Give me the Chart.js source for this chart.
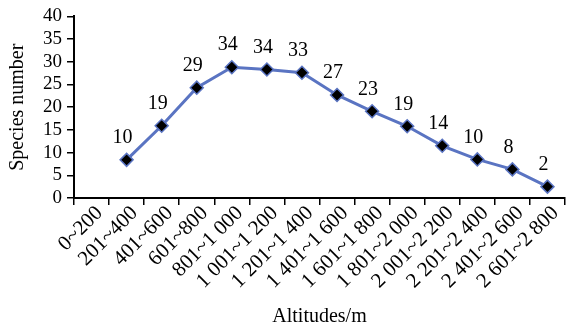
<!DOCTYPE html>
<html>
<head>
<meta charset="utf-8">
<script src="https://cdn.jsdelivr.net/npm/chart.js@4/dist/chart.umd.min.js"></script>
<style>
html, body { margin: 0; padding: 0; background: #fff; }
</style>
</head>
<body>
<canvas id="altChart" width="567" height="331"></canvas>
<script>
// altitude bands (x categories)
const altitudes = ['0~200', '201~400', '401~600', '601~800', '801~1 000', '1 001~1 200',
    '1 201~1 400', '1 401~1 600', '1 601~1 800', '1 801~2 000', '2 001~2 200',
    '2 201~2 400', '2 401~2 600', '2 601~2 800'];

// where each marker sits on the y axis
const plottedValues = [null, 8.4, 15.9, 24.3, 28.8, 28.3, 27.6, 22.7, 19.1, 15.8, 11.5, 8.5, 6.3, 2.5];

// numbers printed above the markers
const speciesNumber = [null, 10, 19, 29, 34, 34, 33, 27, 23, 19, 14, 10, 8, 2];

const yMin = 0, yMax = 40, yStep = 5;

const serif = '"Liberation Serif", "Times New Roman", serif';
const lineBlue = '#5a74c2';

// draws the species numbers above each point
const pointLabels = {
    id: 'pointLabels',
    afterDatasetsDraw(chart) {
        const ctx = chart.ctx;
        const meta = chart.getDatasetMeta(0);
        ctx.save();
        ctx.font = '20px ' + serif;
        ctx.fillStyle = '#000';
        ctx.textAlign = 'center';
        ctx.textBaseline = 'middle';
        meta.data.forEach(function(pt, i){
            if (speciesNumber[i] == null) return;
            ctx.fillText(String(speciesNumber[i]), pt.x - 4, pt.y - 22);
        });
        ctx.restore();
    }
};

new Chart(document.getElementById('altChart'), {
    type: 'line',
    data: {
        labels: altitudes,
        datasets: [{
            data: plottedValues,
            borderColor: lineBlue,
            borderWidth: 3,
            tension: 0,
            pointStyle: 'rectRot',
            pointRadius: 6.5,
            pointBackgroundColor: '#000',
            pointBorderColor: lineBlue,
            pointBorderWidth: 1.5
        }]
    },
    options: {
        responsive: false,
        animation: false,
        layout: { autoPadding: false, padding: { top: 14, right: 2, left: 0, bottom: 0 } },
        plugins: {
            legend: { display: false },
            tooltip: { enabled: false }
        },
        scales: {
            x: {
                offset: true,
                afterFit(scale) {
                    scale.height = 133;
                    scale.paddingLeft = 0;
                    scale.paddingRight = 0;
                },
                grid: {
                    offset: true,
                    drawOnChartArea: false,
                    drawTicks: true,
                    tickLength: 7,
                    color: '#000',
                    lineWidth: 1.5
                },
                border: { display: true, color: '#000', width: 2 },
                ticks: {
                    autoSkip: false,
                    minRotation: 45,
                    maxRotation: 45,
                    padding: -4,
                    labelOffset: 8,
                    color: '#000',
                    font: { family: serif, size: 21 }
                },
                title: {
                    display: true,
                    text: 'Altitudes/m',
                    color: '#000',
                    font: { family: serif, size: 20 },
                    padding: { top: 0, bottom: 2 }
                }
            },
            y: {
                min: yMin,
                max: yMax,
                afterFit(scale) { scale.width = 74; },
                grid: {
                    drawOnChartArea: false,
                    drawTicks: true,
                    tickLength: 7,
                    color: '#000',
                    lineWidth: 1.5
                },
                border: { display: true, color: '#000', width: 2 },
                ticks: {
                    autoSkip: false,
                    stepSize: yStep,
                    padding: 5,
                    color: '#000',
                    font: { family: serif, size: 19 }
                },
                title: {
                    display: true,
                    text: 'Species number',
                    color: '#000',
                    font: { family: serif, size: 20 },
                    padding: { top: 6, bottom: 0 }
                }
            }
        }
    },
    plugins: [pointLabels]
});
</script>
</body>
</html>
